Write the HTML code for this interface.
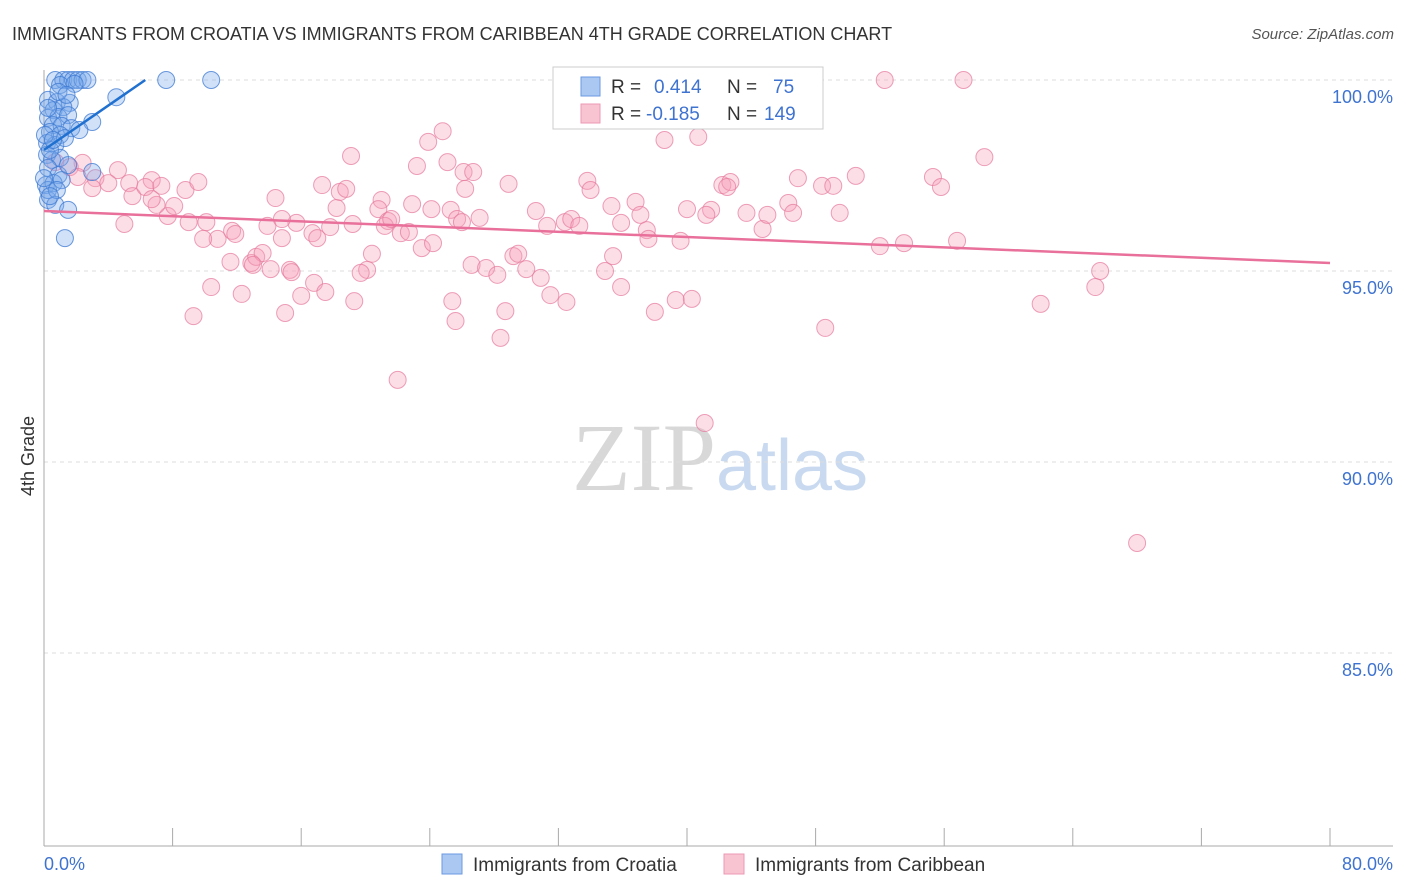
<!DOCTYPE html>
<html><head><meta charset="utf-8"><style>
body{margin:0;background:#fff;font-family:"Liberation Sans",sans-serif;}
svg{display:block}
</style></head><body>
<svg id="chart" width="1406" height="892">
<text x="12" y="40" font-size="18" fill="#333">IMMIGRANTS FROM CROATIA VS IMMIGRANTS FROM CARIBBEAN 4TH GRADE CORRELATION CHART</text>
<text x="1394" y="39" font-size="15" fill="#555" font-style="italic" text-anchor="end">Source: ZipAtlas.com</text>
<text x="34" y="456" font-size="18" fill="#333" transform="rotate(-90 34 456)" text-anchor="middle">4th Grade</text>
<text x="720" y="490" font-size="96" fill="#ddd" text-anchor="middle" font-family="Liberation Serif,serif"><tspan fill="#d8d8d8">ZIP</tspan><tspan fill="#c9daf0" font-family="Liberation Sans,sans-serif" font-size="72">atlas</tspan></text>
<g id="grid"></g><g id="axes"></g><g id="pts"></g><g id="lines"></g>
<g>
<rect x="553" y="67" width="270" height="62" fill="#fff" stroke="#ccc"/>
<rect x="581" y="77" width="19" height="19" fill="#aac8f2" stroke="#6b9ae0"/>
<rect x="581" y="104" width="19" height="19" fill="#f8c4d2" stroke="#ec9ab4"/>
<text x="611" y="93" font-size="19" fill="#333">R = <tspan fill="#3f73d0" x="654">0.414</tspan><tspan x="727" fill="#333">N =</tspan><tspan x="773" fill="#3f73d0">75</tspan></text>
<text x="611" y="120" font-size="19" fill="#333">R = <tspan fill="#3f73d0" x="646">-0.185</tspan><tspan x="727" fill="#333">N =</tspan><tspan x="764" fill="#3f73d0">149</tspan></text>
</g>
<g>
<rect x="442" y="854" width="20" height="20" fill="#aac8f2" stroke="#6b9ae0"/>
<text x="473" y="871" font-size="19" fill="#333">Immigrants from Croatia</text>
<rect x="724" y="854" width="20" height="20" fill="#f8c4d2" stroke="#ec9ab4"/>
<text x="755" y="871" font-size="19" fill="#333">Immigrants from Caribbean</text>
</g>
</svg>
<script>
const yTicks=[100,95,90,85];
const xTickLabels=["0.0%","80.0%"];
const blueX=[0.7,1.2,1.5,1.8,2.1,2.4,2.7,7.6,10.4,1.0,1.9,4.5,0.25,0.8,1.6,0.6,1.2,0.25,0.9,1.5,0.56,1.1,1.7,3.0,0.37,1.0,0.19,0.7,1.3,0.19,0.5,1.0,0.25,0.9,0.12,0.6,1.1,0.25,0.7,1.5,1.3,3.0,0.25,0.8,0,0.37,0.06,0.56,0.9,1.4,0.25,2.2,0.37,1.5];
const blueY=[100,100,100,100,100,100,100,100,100,99.87,99.9,99.55,99.48,99.42,99.4,99.21,99.29,99.01,99.03,99.08,98.82,98.8,98.74,98.9,98.64,98.56,98.35,98.3,98.48,98.04,97.91,97.96,97.7,97.51,97.25,97.3,97.38,96.86,96.73,96.6,95.86,97.59,97.12,97.12,97.43,98.17,98.56,98.43,99.69,99.61,99.27,98.69,96.96,97.77];
const pinkX=[52.3,57.2,24.8,40.7,38.6,23.9,19.1,58.5,23.2,25.1,26.1,4.6,2.4,0.7,1.6,3.2,2.1,4.0,5.3,6.7,5.5,6.3,7.3,8.8,9.6,3.0,5.0,7.7,8.1,7.0,9.0,10.1,10.8,9.9,11.7,11.9,11.6,12.9,13.2,13.6,14.1,15.3,12.3,10.4,9.3,13.9,14.4,14.8,15.7,16.7,17.0,17.8,17.3,18.2,18.4,18.8,19.2,20.4,20.1,19.7,21.0,20.8,21.4,21.2,21.6,22.2,22.7,22.9,23.5,24.2,24.1,26.2,25.3,25.7,26.0,27.1,28.9,30.6,31.3,32.4,32.8,33.3,33.8,34.0,35.3,36.8,37.1,37.5,37.6,39.6,40.0,41.5,42.2,42.7,43.7,44.7,45.0,46.3,46.6,46.9,48.4,49.1,49.5,50.5,52.0,53.5,55.3,55.8,56.8,65.7,65.4,62.0,68.0,41.1,22.0,28.4,48.6,38.0,39.3,40.3,32.5,31.5,28.7,25.6,25.4,19.3,16.8,16.0,17.5,15.0,15.4,26.6,27.5,28.2,29.2,29.5,30.0,30.9,34.9,35.4,35.9,35.9,41.2,42.5,26.7,13.0,14.8,6.7];
const pinkY=[100,100,98.66,98.51,98.43,98.38,98.01,97.98,97.75,97.85,97.59,97.64,97.83,97.85,97.72,97.43,97.46,97.3,97.3,97.38,96.96,97.2,97.23,97.12,97.33,97.17,96.23,96.44,96.7,96.73,96.28,96.28,95.84,95.84,96.05,95.97,95.24,95.21,95.37,95.47,95.05,95.03,94.4,94.58,93.82,96.18,96.91,95.86,96.26,95.99,95.86,96.15,97.25,96.65,97.07,97.15,96.23,95.45,95.03,94.95,96.86,96.62,96.31,96.18,96.36,95.99,96.02,96.75,95.6,95.73,96.62,97.15,96.6,96.36,96.28,96.39,97.28,96.57,96.18,96.28,96.36,96.18,97.36,97.12,96.7,96.81,96.47,96.07,95.84,95.79,96.62,96.6,97.25,97.33,96.52,96.1,96.47,96.78,96.52,97.43,97.23,97.23,96.52,97.49,95.65,95.73,97.46,97.2,95.79,95.0,94.58,94.14,87.88,91.02,92.15,93.25,93.51,93.93,94.24,94.27,94.19,94.37,93.95,93.69,94.21,94.21,94.69,94.35,94.45,93.9,94.97,95.16,95.08,94.9,95.39,95.45,95.05,94.82,95.0,95.39,94.58,96.26,96.47,97.2,97.59,95.16,96.36,96.88];
const blueTrend=[0,98.17,6.3,100];
const pinkTrend=[0,96.57,80,95.21];
const NS="http://www.w3.org/2000/svg";
const X=v=>44+v*16.075;
const Y=v=>80+(100-v)*38.2;
function mk(t,a,p){const e=document.createElementNS(NS,t);for(const k in a)e.setAttribute(k,a[k]);document.getElementById(p).appendChild(e);return e;}
yTicks.forEach(t=>{
 const l=mk('line',{x1:44,x2:1393,y1:Y(t),y2:Y(t),stroke:'#ddd','stroke-dasharray':'4,4'},'grid');
 
 
 const tx=mk('text',{x:1393,y:Y(t)+23,'font-size':18,fill:'#3f73d0','text-anchor':'end'},'grid');
 tx.textContent=t.toFixed(1)+'%';
 
 
});
const ax=mk('line',{x1:44,x2:44,y1:70,y2:846,stroke:'#aaa'},'axes');


const bx=mk('line',{x1:44,x2:1393,y1:846,y2:846,stroke:'#aaa'},'axes');


for(let i=0;i<=10;i++){const t=mk('line',{x1:X(i*8),x2:X(i*8),y1:828,y2:846,stroke:'#aaa'},'axes');
 
 }
[[0,'start'],[80,'end']].forEach((d,i)=>{const t=mk('text',{x:i?1393:44,y:870,'font-size':18,fill:'#3f73d0','text-anchor':d[1]},'axes');t.textContent=xTickLabels[i];
 
 });
pinkX.forEach((x,i)=>{const c=mk('circle',{cx:X(x),cy:Y(pinkY[i]),r:8.5,fill:'rgba(245,160,185,0.35)',stroke:'rgba(230,120,155,0.7)','stroke-width':1},'pts');
 
 });
blueX.forEach((x,i)=>{const c=mk('circle',{cx:X(x),cy:Y(blueY[i]),r:8.5,fill:'rgba(120,170,235,0.35)',stroke:'rgba(60,120,210,0.75)','stroke-width':1},'pts');
 
 });
const bl=mk('line',{x1:X(blueTrend[0]),y1:Y(blueTrend[1]),x2:X(blueTrend[2]),y2:Y(blueTrend[3]),stroke:'#2070d0','stroke-width':2.5},'lines');


const pl=mk('line',{x1:X(pinkTrend[0]),y1:Y(pinkTrend[1]),x2:X(pinkTrend[2]),y2:Y(pinkTrend[3]),stroke:'#e8709a','stroke-width':2.5},'lines');


</script>
</body></html>
